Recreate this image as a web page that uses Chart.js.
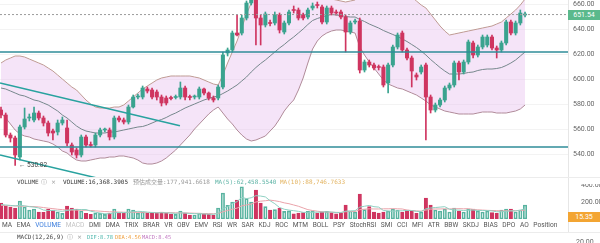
<!DOCTYPE html>
<html><head><meta charset="utf-8">
<script src="https://cdn.jsdelivr.net/npm/chart.js@4.4.1/dist/chart.umd.min.js"></script>
<style>
html,body{margin:0;padding:0;background:#fff;}
body{width:600px;height:243px;position:relative;overflow:hidden;font-family:Roboto,'Noto Sans',sans-serif;}
.box{position:absolute;white-space:nowrap;}
#priceWrap{left:0;top:0;width:600px;height:177px;}
#volWrap{left:0;top:184px;width:600px;height:35px;}
.mono{font-family:'DejaVu Sans Mono','Noto Sans CJK SC',monospace;font-size:6px;line-height:8px;}
.mono.small{font-size:5.4px;}
.icon{font-family:'DejaVu Sans',sans-serif;font-size:6px;line-height:8px;color:#999;}
#tabs{position:absolute;left:2px;top:221px;display:flex;gap:4.6px;font-size:6.6px;line-height:9px;color:#555;white-space:nowrap;}
.hline{position:absolute;left:0;width:600px;height:1px;background:#ececec;}
.vline{position:absolute;left:568px;top:0;width:1px;height:232px;background:#e6e6e6;}
.tag{position:absolute;left:568px;width:32px;height:10px;font-size:7px;line-height:10px;color:#fff;text-align:center;}
</style>
</head>
<body>
<div class="vline"></div>
<div class="hline" style="top:177px"></div>
<div class="hline" style="top:232px"></div>
<div class="box" id="priceWrap"><canvas id="price"></canvas></div>
<div class="box" id="volWrap"><canvas id="vol"></canvas></div>

<div class="tag" style="top:10px;background:#5bb98c">651.54</div>
<div class="box" style="left:19px;top:161px;font-size:6.5px;line-height:8px;color:#444">← 530.82</div>

<div class="box mono" style="left:17px;top:178px;color:#444">VOLUME</div>
<div class="box icon" style="left:41px;top:178px">ⓘ</div>
<div class="box icon" style="left:51px;top:178px">×</div>
<div class="box mono" style="left:63px;top:178px;color:#333">VOLUME:16,368.3905</div>
<div class="box mono" style="left:133px;top:178px;color:#999">预估成交量:177,941.6618</div>
<div class="box mono" style="left:215px;top:178px;color:#5db3a5">MA(5):62,458.5540</div>
<div class="box mono" style="left:280px;top:178px;color:#e3b35f">MA(10):88,746.7633</div>

<div class="tag" style="top:212px;background:#f3a533">15.35</div>

<div id="tabs"></div>

<div class="box mono" style="left:17px;top:233px;color:#444">MACD(12,26,9)</div>
<div class="box icon" style="left:67px;top:233px">ⓘ</div>
<div class="box icon" style="left:77px;top:233px">×</div>
<div class="box mono small" style="left:87px;top:233px;color:#4db6ac">DIF:8.78</div>
<div class="box mono small" style="left:115px;top:233px;color:#f0a040">DEA:4.56</div>
<div class="box mono small" style="left:142px;top:233px;color:#c27bc2">MACD:8.45</div>
<div class="box" style="left:576px;top:238px;font-size:7px;line-height:9px;color:#666">20.00</div>

<script>
// ---- candles (price) ----
const opens = [575.2,571.2,555.2,552.8,537.6,561.6,568.8,567.2,572.8,568.8,
564.8,558.4,557.6,564.8,560.8,547.2,543.2,539.2,553.6,547.2,
547.2,555.2,559.2,559.2,553.6,568.8,567.2,565.6,577.6,585.6,
585.6,592.0,591.2,589.6,585.6,584.8,584.8,585.2,585.6,592.8,
585.6,585.6,585.6,592.0,588.8,584.8,584.8,593.6,620.8,623.2,
636.8,636.8,648.8,660.8,664.8,648.8,643.2,644.8,644.8,651.2,
637.6,644.8,655.2,655.2,651.2,649.6,656.8,659.2,657.6,645.6,
656.8,653.6,653.6,649.6,637.6,645.6,646.4,607.2,613.6,611.2,
609.6,609.6,596.8,611.2,625.6,636.8,623.2,616.8,603.2,605.6,
611.2,585.6,575.2,579.2,583.2,592.8,595.2,612.8,605.6,613.6,
628.8,619.2,625.6,627.2,633.6,624.8,623.2,628.8,645.6,636.8,
644.8,651.2];
const closes = [571.2,555.2,552.8,539.2,561.6,568.0,569.6,572.8,568.8,564.8,
556.8,556.8,564.8,567.2,548.8,541.6,539.2,553.6,547.2,546.8,
555.2,559.2,559.6,553.6,568.8,567.2,565.6,577.6,585.6,586.0,
592.8,590.4,585.6,585.6,580.8,580.8,584.4,585.6,592.8,585.6,
585.2,586.0,592.0,588.8,584.8,583.2,593.6,619.2,623.2,636.8,
635.2,648.8,660.8,665.6,648.8,643.2,652.0,644.4,651.2,639.2,
644.8,653.6,654.8,648.8,648.8,655.2,658.4,658.8,645.6,656.8,
652.8,652.8,649.6,637.6,644.8,646.0,607.2,613.6,611.2,608.8,
609.2,595.2,611.2,625.6,635.2,623.2,616.8,606.4,601.6,609.6,
585.6,575.2,579.2,583.2,592.8,595.2,612.8,605.6,613.6,629.6,
619.2,625.6,633.6,633.6,624.8,623.2,628.8,645.6,636.8,644.8,
652.8,651.54];
const highs = [577.6,572.8,556.8,554.4,563.2,576.8,572.0,577.6,574.4,570.4,
566.4,560.0,567.2,569.6,567.2,548.8,544.8,555.2,555.2,549.6,
556.8,560.8,560.8,560.8,570.4,570.4,568.8,579.2,587.2,588.0,
594.4,593.6,592.8,591.2,587.2,586.4,586.4,587.2,597.6,594.4,
587.2,587.2,593.6,592.8,589.6,586.4,595.2,621.6,624.8,638.4,
651.2,651.2,662.4,668.0,667.2,651.2,653.6,647.2,653.6,652.8,
646.4,655.2,658.4,656.8,652.8,656.8,660.8,661.6,659.2,658.4,
658.4,655.2,655.2,651.2,646.4,648.0,648.8,615.2,615.2,612.8,
611.2,611.2,612.8,627.2,636.8,638.4,624.8,618.4,604.8,611.2,
612.8,587.2,580.8,584.8,594.4,596.8,614.4,614.4,615.2,631.2,
630.4,627.2,635.2,635.2,635.2,626.4,630.4,647.2,647.2,646.4,
655.2,653.6];
const lows = [568.8,553.6,549.6,530.82,535.2,560.0,566.4,565.6,567.2,562.4,
554.4,551.2,555.2,563.2,546.4,539.2,536.8,537.6,545.6,545.6,
545.6,553.6,557.6,551.2,552.0,565.6,564.0,564.0,576.8,584.0,
584.0,588.8,584.0,583.2,578.4,579.2,583.2,584.0,584.0,583.2,
583.2,584.0,584.0,587.2,583.2,581.6,583.2,592.0,618.4,621.6,
634.4,635.2,647.2,659.2,627.2,627.2,641.6,642.4,643.2,636.8,
636.0,643.2,652.8,647.2,647.2,648.0,655.2,656.8,644.0,644.0,
651.2,651.2,648.0,621.6,636.0,644.0,604.8,605.6,609.6,607.2,
607.2,593.6,588.8,609.6,624.0,621.6,615.2,593.6,599.2,604.0,
551.2,572.8,573.6,577.6,581.6,591.2,593.6,599.2,604.0,612.0,
616.8,617.6,624.0,625.6,623.2,616.8,621.6,627.2,635.2,635.2,
643.2,649.6];

// ---- Bollinger bands BOLL(20,2) ----
const bollUpper = [612.8,615.2,616.8,618.4,618.4,617.6,616.0,614.4,612.8,611.2,
608.8,606.4,603.2,600.0,596.8,593.6,591.2,587.2,583.2,580.0,
577.6,576.8,576.8,576.8,577.6,577.6,579.2,582.4,585.6,588.8,
592.0,594.4,596.8,599.2,600.8,601.6,602.4,602.4,602.4,602.4,
602.4,601.6,600.8,599.2,597.6,596.0,595.2,603.2,612.8,621.6,
630.4,640.8,652.0,660.8,667.2,672.8,676.8,679.2,680.8,682.4,
683.2,684.0,684.0,682.4,679.2,674.4,668.8,666.4,664.8,664.0,
664.0,663.2,662.4,661.6,662.4,663.2,669.6,672.8,675.2,676.8,
677.6,678.4,677.6,676.0,674.4,672.8,669.6,665.6,662.4,659.2,
656.8,652.0,647.2,642.4,638.4,635.2,636.0,636.8,637.6,638.4,
639.2,640.0,640.8,641.6,642.4,644.0,645.6,648.8,652.0,655.2,
659.2,664.0];
const bollMid = [592.8,592.0,590.4,588.8,587.2,586.4,584.8,583.2,582.4,580.8,
579.2,576.8,574.4,571.2,568.8,565.6,562.4,560.0,558.4,557.6,
556.8,556.8,556.8,557.6,557.6,558.4,559.2,560.0,560.8,561.6,
562.0,563.2,564.8,566.4,567.6,569.2,571.2,572.8,574.8,576.8,
578.4,580.0,581.6,583.2,584.4,585.6,586.4,588.4,590.4,592.8,
595.2,598.4,601.6,605.6,609.2,612.4,615.2,618.4,621.6,624.8,
627.6,630.8,633.6,636.8,640.0,643.6,646.8,648.4,649.6,650.8,
651.6,651.2,650.8,650.0,649.6,649.6,647.6,646.0,644.0,642.4,
640.8,638.8,637.2,635.6,634.0,632.0,630.0,627.6,625.2,622.4,
619.2,615.6,612.4,609.2,606.4,604.0,604.0,604.0,604.4,605.2,
605.6,606.8,607.6,608.0,608.0,608.4,609.2,610.8,612.8,615.2,
618.4,621.6];
const bollLower = [572.8,568.8,564.0,559.2,556.0,554.4,553.6,552.0,551.2,550.4,
549.6,548.0,545.6,542.4,540.8,537.6,535.2,534.4,534.4,535.2,
536.0,536.8,536.8,537.6,537.6,538.4,538.4,537.6,536.8,535.2,
532.8,532.0,532.0,532.8,534.4,536.8,540.0,543.2,547.2,551.2,
555.2,560.0,564.0,568.0,572.0,575.2,577.6,572.8,568.0,564.0,
559.2,555.2,552.0,550.4,551.2,552.8,554.4,558.4,562.4,568.0,
574.4,579.2,583.2,591.2,600.8,612.8,624.0,630.4,634.4,636.8,
638.4,639.2,639.2,638.4,637.6,636.8,625.6,619.2,613.6,608.8,
604.0,599.2,596.0,594.4,592.8,592.0,590.4,588.8,587.2,584.8,
582.4,579.2,577.6,576.0,574.4,573.6,572.8,572.0,572.0,572.0,
572.0,572.8,573.6,573.6,573.6,572.8,572.8,572.8,573.6,574.4,
576.0,579.2];

// ---- volume panel (%) ----
const volumes = [188,153,141,129,212,141,106,118,82,78,
118,106,82,66,153,129,118,94,66,55,
70,66,55,70,118,66,66,118,106,70,
82,66,70,70,82,70,59,55,94,70,
47,47,70,59,55,47,129,306,160,200,
223,380,240,200,341,188,145,106,110,130,
90,95,60,70,75,90,95,70,82,90,
75,60,70,165,94,82,294,110,145,80,
70,82,94,118,106,82,106,94,66,82,
247,165,106,94,118,82,129,94,82,118,
118,94,82,94,75,66,106,118,118,82,
106,165];
const volMa5 = [170,165,160,155,160,155,145,140,130,105,
100,100,95,90,100,110,110,112,112,92,
80,70,62,62,75,75,75,80,85,90,
88,80,76,72,74,72,70,67,72,70,
65,63,62,59,56,55,68,120,145,180,
205,255,240,250,275,270,260,215,180,135,
115,105,98,90,78,78,80,80,82,85,
82,76,75,92,95,98,140,150,160,145,
140,100,95,90,95,97,100,100,90,88,
120,130,135,140,145,115,105,105,100,105,
105,100,100,100,95,85,85,90,95,95,
105,120];
const volMa10 = [160,158,156,154,152,150,148,146,142,135,
128,122,115,110,106,105,104,103,102,100,
96,92,88,85,84,82,80,78,78,78,
78,78,77,76,76,75,74,72,72,71,
70,68,66,65,64,62,65,85,100,115,
128,155,165,175,200,210,215,222,215,205,
190,180,165,150,130,110,100,92,86,82,
80,78,77,85,88,88,110,115,120,118,
118,120,120,122,120,118,105,100,95,92,
105,115,118,118,120,118,120,122,120,122,
112,108,105,102,100,98,95,95,98,98,
100,105];

// ---- axes, reference levels, trend lines ----
const priceTicks = [540,560,580,600,620,640,660];
const volTicks = [200,400];
const levelLines = [621.6, 545.6];
const lastPrice = 651.54;
const trendLines = [
  [{x:-0.21, y:596.8}, {x:37.9, y:562.6}],
  [{x:-0.21, y:539.2}, {x:21.0, y:520.2}]
];
const indicatorTabs = ['MA','EMA','VOLUME','MACD','DMI','DMA','TRIX','BRAR','VR','OBV','EMV','RSI','WR','SAR','KDJ','ROC','MTM','BOLL','PSY','StochRSI','SMI','CCI','MFI','ATR','BBW','SKDJ','BIAS','DPO','AO','Position'];

// tab strip
const tabs = document.getElementById('tabs');
indicatorTabs.forEach(t => {
  const d = document.createElement('span');
  if (t === 'VOLUME') d.style.color = '#3b7ddd';
  if (t === 'MACD') d.style.color = '#c4c4c4';
  d.textContent = t;
  tabs.appendChild(d);
});

const UP = '#3aa38f', DOWN = '#cf3560';
const X_MIN = -0.21, X_MAX = 120.1;
const isUp = closes.map((c, i) => c >= opens[i]);
const candleColor = isUp.map(u => u ? UP : DOWN);
const asPoints = arr => arr.map((v, i) => ({x: i, y: v}));
const flatLine = v => [{x: X_MIN, y: v}, {x: X_MAX, y: v}];

const lineBase = {type: 'line', pointRadius: 0, borderWidth: 1, tension: 0, fill: false};

const rightAxis = (min, max, ticks, fmt) => ({
  position: 'right', min, max,
  afterBuildTicks: s => { s.ticks = ticks.map(v => ({value: v})); },
  afterFit: s => { s.width = 32; s.paddingTop = 0; s.paddingBottom = 0; },
  ticks: {font: {size: 7, family: 'Roboto'}, color: '#666', padding: 5, callback: fmt},
  grid: {color: '#f3f3f3', drawTicks: false},
  border: {display: false}
});
const xAxis = {type: 'linear', min: X_MIN, max: X_MAX, display: false, offset: false, grid: {offset: false}};
const common = {
  responsive: true, maintainAspectRatio: false, animation: false,
  layout: {padding: 0},
  plugins: {legend: {display: false}, tooltip: {enabled: false}}
};

new Chart(document.getElementById('price'), {
  type: 'bar',
  data: {datasets: [
    ...levelLines.map(v => ({...lineBase, data: flatLine(v), borderColor: '#2f8c98', borderWidth: 1.6, order: 0})),
    {...lineBase, data: flatLine(lastPrice), borderColor: '#9a9a9a', borderDash: [2, 2], order: 0},
    ...trendLines.map(t => ({...lineBase, data: t, borderColor: '#28a29f', borderWidth: 1.5, order: 0})),
    {type: 'bar', data: lows.map((l, i) => ({x: i, y: [l, highs[i]]})), backgroundColor: candleColor,
     barThickness: 1, grouped: false, order: 2},
    {type: 'bar', data: opens.map((o, i) => ({x: i, y: [o, closes[i]]})), backgroundColor: candleColor,
     barThickness: 3.4, minBarLength: 1, grouped: false, order: 1},
    {...lineBase, data: asPoints(bollMid), borderColor: '#76878c', order: 5},
    {...lineBase, data: asPoints(bollUpper), borderColor: '#bf9b93', order: 6},
    {...lineBase, data: asPoints(bollLower), borderColor: '#b08b99', order: 6,
     fill: '-1', backgroundColor: 'rgba(232,196,240,0.45)'}
  ]},
  options: {...common, scales: {
    x: xAxis,
    y: rightAxis(521.6, 663.2, priceTicks, v => v.toFixed(2))
  }}
});

new Chart(document.getElementById('vol'), {
  type: 'bar',
  data: {datasets: [
    {...lineBase, data: asPoints(volMa5), borderColor: '#8fd0c2', order: 0},
    {...lineBase, data: asPoints(volMa10), borderColor: '#eaa3aa', order: 0},
    {type: 'bar', data: asPoints(volumes),
     backgroundColor: isUp.map(u => u ? 'rgba(255,255,255,0)' : DOWN),
     borderColor: isUp.map(u => u ? '#58b3a0' : DOWN),
     borderWidth: 1, borderSkipped: false, barThickness: 3.4, grouped: false, order: 1}
  ]},
  options: {...common, scales: {
    x: xAxis,
    y: {...rightAxis(0, 412, volTicks, v => v.toFixed(2) + '%'), grid: {display: false}}
  }}
});
</script>
</body></html>
